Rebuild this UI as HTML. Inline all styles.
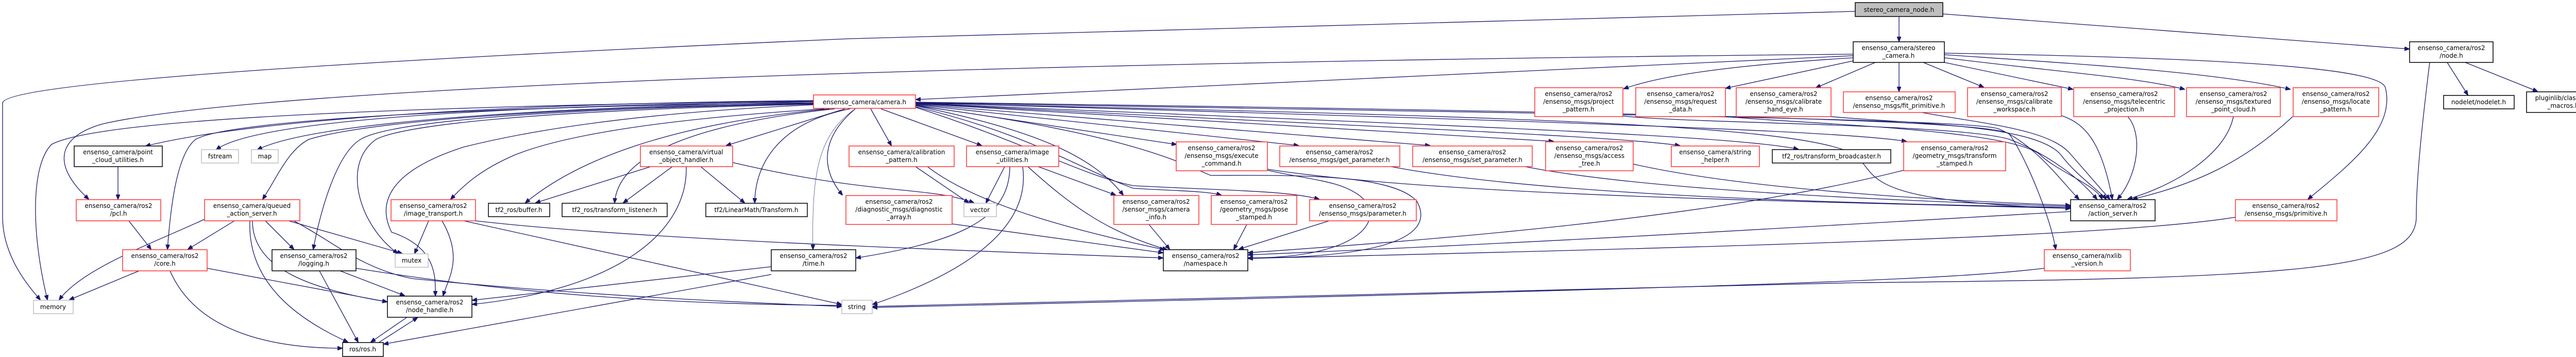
<!DOCTYPE html>
<html><head><meta charset="utf-8"><style>
html,body{margin:0;padding:0;background:#fff;}
svg{display:block;}
text{font-family:"DejaVu Sans","Liberation Sans",sans-serif;font-size:12px;fill:#000;}
.r{fill:#fff;stroke:#ff3333;stroke-width:1.5}
.b{fill:#fff;stroke:#000;stroke-width:1.5}
.g{fill:#fff;stroke:#bfbfbf;stroke-width:1.5}
.e path{fill:none;stroke:#191970;stroke-width:1.3}
</style></head><body>
<svg width="5053" height="692" viewBox="0 0 5053 692" xmlns="http://www.w3.org/2000/svg">
<defs><marker id="a" markerWidth="10" markerHeight="8" refX="9" refY="4" orient="auto" markerUnits="userSpaceOnUse"><path d="M0,0 L10,4 L0,8 z" fill="#191970" stroke="#191970"/></marker></defs>
<g class="e" marker-end="url(#a)">
<path marker-end="url(#a)" d="M3686,32 L3686,80"/>
<path marker-end="url(#a)" d="M3771,27 L4676,95"/>
<path marker-end="url(#a)" d="M3601,22 L1650,75 C400,130 5,170 5,200 L5,420 C5,500 60,560 78,581"/>
<path marker-end="url(#a)" d="M3597,105 C2500,115 600,150 200,240 C110,265 100,320 172,386"/>
<path marker-end="url(#a)" d="M3597,108 L1778,193"/>
<path marker-end="url(#a)" d="M3597,112 C3300,130 3200,155 3152,172"/>
<path marker-end="url(#a)" d="M3597,118 L3350,171"/>
<path marker-end="url(#a)" d="M3640,121 L3525,170"/>
<path marker-end="url(#a)" d="M3686,121 L3686,177"/>
<path marker-end="url(#a)" d="M3733,121 L3850,169"/>
<path marker-end="url(#a)" d="M3774,121 L4023,173"/>
<path marker-end="url(#a)" d="M3774,112 C4000,140 4150,150 4240,173"/>
<path marker-end="url(#a)" d="M3774,106 C4050,125 4300,140 4445,173"/>
<path marker-end="url(#a)" d="M3774,103 C4300,112 4620,130 4630,170 C4650,250 4560,320 4480,386"/>
<path marker-end="url(#a)" d="M4716,121 C4700,250 4690,350 4690,420 C4690,520 4500,540 3600,548 L1694,594"/>
<path marker-end="url(#a)" d="M3968,520 C3800,540 3500,555 1694,596"/>
<path marker-end="url(#a)" d="M4750,121 L4790,184"/>
<path marker-end="url(#a)" d="M4785,121 L4925,177"/>
<path marker-end="url(#a)" d="M1582,195 C1000,200 500,230 283,283"/>
<path marker-end="url(#a)" d="M1582,196 C1000,205 500,230 420,290"/>
<path marker-end="url(#a)" d="M1582,197 C1000,210 600,240 500,290"/>
<path marker-end="url(#a)" d="M1582,195 C900,205 200,225 100,280 C60,320 60,450 92,581"/>
<path marker-end="url(#a)" d="M1582,199 C1000,205 450,230 380,270 C340,300 330,420 325,483"/>
<path marker-end="url(#a)" d="M1582,200 C1000,210 700,240 600,270 C560,290 540,340 510,386"/>
<path marker-end="url(#a)" d="M1582,201 C1000,212 750,240 700,270 C650,300 620,420 608,483"/>
<path marker-end="url(#a)" d="M1582,202 C1000,215 780,245 730,270 C660,320 700,440 772,491"/>
<path marker-end="url(#a)" d="M1582,203 C1200,220 1000,260 900,285 C760,330 730,390 760,450 C850,480 845,540 845,573"/>
<path marker-end="url(#a)" d="M1600,211 C1300,230 1100,260 1000,300 C930,330 900,360 875,386"/>
<path marker-end="url(#a)" d="M1610,211 C1300,240 1120,310 1020,393"/>
<path marker-end="url(#a)" d="M1620,211 C1350,240 1200,300 1193,393"/>
<path marker-end="url(#a)" d="M1650,211 C1500,240 1465,330 1465,393"/>
<path marker-end="url(#a)" d="M1640,211 L1410,282"/>
<path marker-end="url(#a)" style="stroke-width:0.6" d="M1660,211 C1590,260 1575,330 1578,483"/>
<path marker-end="url(#a)" d="M1660,211 C1590,270 1595,330 1635,378"/>
<path marker-end="url(#a)" d="M1690,211 L1730,282"/>
<path marker-end="url(#a)" d="M1710,211 L1905,282"/>
<path marker-end="url(#a)" d="M1777,205 C2000,250 2120,300 2180,378"/>
<path marker-end="url(#a)" d="M1777,207 C2000,260 2100,330 2200,365 C2280,370 2340,370 2370,378"/>
<path marker-end="url(#a)" d="M1777,208 C2000,280 2100,340 2200,360 C2400,370 2500,370 2560,386"/>
<path marker-end="url(#a)" d="M1777,204 L2283,280"/>
<path marker-end="url(#a)" d="M1777,203 L2520,282"/>
<path marker-end="url(#a)" d="M1777,202 L2775,282"/>
<path marker-end="url(#a)" d="M1777,201 L3015,274"/>
<path marker-end="url(#a)" d="M1777,200 C2500,240 3100,260 3260,282"/>
<path marker-end="url(#a)" d="M1777,200 C2700,240 3350,260 3490,289"/>
<path marker-end="url(#a)" d="M1777,199 C2800,230 3550,250 3700,274"/>
<path marker-end="url(#a)" d="M1777,199 C3000,220 3830,230 3880,250 C3950,280 4000,350 4035,386"/>
<path marker-end="url(#a)" d="M1777,198 C3000,215 3880,230 3900,260 C3930,300 3980,420 3990,483"/>
<path marker-end="url(#a)" d="M1777,205 C2200,260 2300,320 2350,340 C2500,340 2700,335 2750,390 C2800,480 2600,500 2423,500"/>
<path marker-end="url(#a)" d="M1777,200 C2900,225 3500,240 3600,300 C3650,340 3600,390 4018,404"/>
<path marker-end="url(#a)" d="M3150,225 C3300,240 3800,240 3900,270 C3980,300 4040,350 4070,386"/>
<path marker-end="url(#a)" d="M3349,226 C3500,240 3900,250 3960,300 C3990,330 4070,360 4080,386"/>
<path marker-end="url(#a)" d="M3554,226 C3700,240 3950,240 4000,300 C4030,340 4075,370 4088,386"/>
<path marker-end="url(#a)" d="M3730,218 C3850,240 3980,250 4020,300 L4095,386"/>
<path marker-end="url(#a)" d="M4001,224 C4050,240 4080,280 4100,386"/>
<path marker-end="url(#a)" d="M4130,226 C4160,260 4150,340 4110,386"/>
<path marker-end="url(#a)" d="M4335,226 C4320,300 4220,360 4130,386"/>
<path marker-end="url(#a)" d="M4450,226 C4350,320 4250,360 4140,386"/>
<path marker-end="url(#a)" d="M2460,328 C2800,380 3500,390 4018,404"/>
<path marker-end="url(#a)" d="M2700,323 C3000,380 3600,395 4018,402"/>
<path marker-end="url(#a)" d="M2960,323 C3200,370 3700,390 4018,400"/>
<path marker-end="url(#a)" d="M3170,318 C3400,370 3800,390 4018,398"/>
<path marker-end="url(#a)" d="M3695,330 C3300,430 2700,470 2423,490"/>
<path marker-end="url(#a)" d="M4019,410 C3500,440 3000,470 2423,494"/>
<path marker-end="url(#a)" d="M4339,421 C4100,460 3300,480 2423,501"/>
<path marker-end="url(#a)" d="M923,428 C1200,460 1700,480 2257,500"/>
<path marker-end="url(#a)" d="M1848,434 L2257,490"/>
<path marker-end="url(#a)" d="M1800,323 C1900,400 2100,450 2260,484"/>
<path marker-end="url(#a)" d="M1995,323 C2080,400 2150,450 2265,484"/>
<path marker-end="url(#a)" d="M2230,435 L2270,483"/>
<path marker-end="url(#a)" d="M2420,435 L2395,483"/>
<path marker-end="url(#a)" d="M2580,428 L2405,483"/>
<path marker-end="url(#a)" d="M2460,330 C2550,350 2600,350 2640,380 C2690,420 2650,500 2423,500"/>
<path marker-end="url(#a)" d="M1960,323 C1960,430 1850,470 1662,500"/>
<path marker-end="url(#a)" d="M1985,323 C2000,430 1900,520 1694,590"/>
<path marker-end="url(#a)" d="M1950,323 L1914,393"/>
<path marker-end="url(#a)" d="M1777,323 L1880,393"/>
<path marker-end="url(#a)" d="M2015,323 L2165,378"/>
<path marker-end="url(#a)" d="M1422,315 C1700,380 1800,360 1890,393"/>
<path marker-end="url(#a)" d="M229,323 L229,386"/>
<path marker-end="url(#a)" d="M250,428 L293,483"/>
<path marker-end="url(#a)" d="M397,425 C300,470 160,520 115,581"/>
<path marker-end="url(#a)" d="M455,428 L365,483"/>
<path marker-end="url(#a)" d="M515,428 L570,483"/>
<path marker-end="url(#a)" d="M560,428 L780,491"/>
<path marker-end="url(#a)" d="M490,428 C490,520 600,560 751,585"/>
<path marker-end="url(#a)" d="M485,428 C480,550 580,620 675,663"/>
<path marker-end="url(#a)" d="M570,428 C650,470 700,520 800,540 C1100,570 1400,585 1633,594"/>
<path marker-end="url(#a)" d="M270,525 L135,581"/>
<path marker-end="url(#a)" d="M402,520 L751,585"/>
<path marker-end="url(#a)" d="M330,525 C380,640 520,675 664,675"/>
<path marker-end="url(#a)" d="M660,525 L785,573"/>
<path marker-end="url(#a)" d="M620,525 L695,663"/>
<path marker-end="url(#a)" d="M691,520 C1000,570 1300,590 1633,592"/>
<path marker-end="url(#a)" d="M832,428 L805,491"/>
<path marker-end="url(#a)" d="M858,428 C900,500 870,540 860,573"/>
<path marker-end="url(#a)" d="M900,428 L1633,590"/>
<path marker-end="url(#a)" d="M1497,517 L917,582"/>
<path marker-end="url(#a)" d="M1497,532 L745,667"/>
<path marker-end="url(#a)" d="M790,615 L720,663"/>
<path marker-end="url(#a)" d="M735,664 L810,616"/>
<path marker-end="url(#a)" d="M1263,323 L1040,393"/>
<path marker-end="url(#a)" d="M1305,323 L1210,393"/>
<path marker-end="url(#a)" d="M1360,323 L1445,393"/>
<path marker-end="url(#a)" d="M1332,323 C1335,450 1200,560 917,590"/>
</g>
<g text-anchor="middle">
<rect x="3601" y="5" width="170" height="27" fill="#bfbfbf" stroke="#000" stroke-width="1.5"/><text x="3686" y="23">stereo_camera_node.h</text>
<rect class="b" x="3597" y="81" width="177" height="40"/><text x="3685" y="97">ensenso_camera/stereo</text><text x="3685" y="112">_camera.h</text>
<rect class="b" x="4677" y="81" width="162" height="40"/><text x="4758" y="97">ensenso_camera/ros2</text><text x="4758" y="112">/node.h</text>
<rect class="r" x="1579" y="184" width="198" height="26"/><text x="1678" y="202">ensenso_camera/camera.h</text>
<rect class="r" x="2979" y="170" width="171" height="56"/><text x="3064" y="186">ensenso_camera/ros2</text><text x="3064" y="201">/ensenso_msgs/project</text><text x="3064" y="216">_pattern.h</text>
<rect class="r" x="3175" y="170" width="174" height="56"/><text x="3262" y="186">ensenso_camera/ros2</text><text x="3262" y="201">/ensenso_msgs/request</text><text x="3262" y="216">_data.h</text>
<rect class="r" x="3370" y="170" width="184" height="56"/><text x="3462" y="186">ensenso_camera/ros2</text><text x="3462" y="201">/ensenso_msgs/calibrate</text><text x="3462" y="216">_hand_eye.h</text>
<rect class="r" x="3578" y="178" width="217" height="40"/><text x="3686" y="194">ensenso_camera/ros2</text><text x="3686" y="209">/ensenso_msgs/fit_primitive.h</text>
<rect class="r" x="3819" y="170" width="182" height="56"/><text x="3910" y="186">ensenso_camera/ros2</text><text x="3910" y="201">/ensenso_msgs/calibrate</text><text x="3910" y="216">_workspace.h</text>
<rect class="r" x="4025" y="170" width="196" height="56"/><text x="4123" y="186">ensenso_camera/ros2</text><text x="4123" y="201">/ensenso_msgs/telecentric</text><text x="4123" y="216">_projection.h</text>
<rect class="r" x="4244" y="170" width="182" height="56"/><text x="4335" y="186">ensenso_camera/ros2</text><text x="4335" y="201">/ensenso_msgs/textured</text><text x="4335" y="216">_point_cloud.h</text>
<rect class="r" x="4451" y="170" width="166" height="56"/><text x="4534" y="186">ensenso_camera/ros2</text><text x="4534" y="201">/ensenso_msgs/locate</text><text x="4534" y="216">_pattern.h</text>
<rect class="b" x="4743" y="185" width="137" height="26"/><text x="4811" y="202">nodelet/nodelet.h</text>
<rect class="b" x="4904" y="178" width="142" height="40"/><text x="4975" y="194">pluginlib/class_list</text><text x="4975" y="209">_macros.h</text>
<rect class="b" x="144" y="283" width="171" height="40"/><text x="229" y="299">ensenso_camera/point</text><text x="229" y="314">_cloud_utilities.h</text>
<rect class="g" x="391" y="290" width="72" height="26"/><text x="427" y="307">fstream</text>
<rect class="g" x="488" y="290" width="52" height="26"/><text x="514" y="307">map</text>
<rect class="r" x="1243" y="283" width="179" height="40"/><text x="1332" y="299">ensenso_camera/virtual</text><text x="1332" y="314">_object_handler.h</text>
<rect class="r" x="1648" y="283" width="204" height="40"/><text x="1750" y="299">ensenso_camera/calibration</text><text x="1750" y="314">_pattern.h</text>
<rect class="r" x="1876" y="283" width="179" height="40"/><text x="1965" y="299">ensenso_camera/image</text><text x="1965" y="314">_utilities.h</text>
<rect class="r" x="2283" y="275" width="177" height="56"/><text x="2371" y="291">ensenso_camera/ros2</text><text x="2371" y="306">/ensenso_msgs/execute</text><text x="2371" y="321">_command.h</text>
<rect class="r" x="2484" y="283" width="233" height="40"/><text x="2600" y="299">ensenso_camera/ros2</text><text x="2600" y="314">/ensenso_msgs/get_parameter.h</text>
<rect class="r" x="2742" y="283" width="232" height="40"/><text x="2858" y="299">ensenso_camera/ros2</text><text x="2858" y="314">/ensenso_msgs/set_parameter.h</text>
<rect class="r" x="3000" y="275" width="170" height="56"/><text x="3085" y="291">ensenso_camera/ros2</text><text x="3085" y="306">/ensenso_msgs/access</text><text x="3085" y="321">_tree.h</text>
<rect class="r" x="3244" y="283" width="171" height="40"/><text x="3329" y="299">ensenso_camera/string</text><text x="3329" y="314">_helper.h</text>
<rect class="b" x="3440" y="290" width="230" height="26"/><text x="3555" y="307">tf2_ros/transform_broadcaster.h</text>
<rect class="r" x="3695" y="275" width="198" height="56"/><text x="3794" y="291">ensenso_camera/ros2</text><text x="3794" y="306">/geometry_msgs/transform</text><text x="3794" y="321">_stamped.h</text>
<rect class="r" x="148" y="387" width="164" height="41"/><text x="230" y="403">ensenso_camera/ros2</text><text x="230" y="418">/pcl.h</text>
<rect class="r" x="397" y="387" width="185" height="41"/><text x="489" y="403">ensenso_camera/queued</text><text x="489" y="418">_action_server.h</text>
<rect class="r" x="759" y="387" width="164" height="41"/><text x="841" y="403">ensenso_camera/ros2</text><text x="841" y="418">/image_transport.h</text>
<rect class="b" x="948" y="394" width="119" height="26"/><text x="1007" y="411">tf2_ros/buffer.h</text>
<rect class="b" x="1091" y="394" width="204" height="26"/><text x="1193" y="411">tf2_ros/transform_listener.h</text>
<rect class="b" x="1370" y="394" width="197" height="26"/><text x="1468" y="411">tf2/LinearMath/Transform.h</text>
<rect class="r" x="1642" y="379" width="206" height="56"/><text x="1745" y="395">ensenso_camera/ros2</text><text x="1745" y="410">/diagnostic_msgs/diagnostic</text><text x="1745" y="425">_array.h</text>
<rect class="g" x="1871" y="394" width="63" height="26"/><text x="1902" y="411">vector</text>
<rect class="r" x="2162" y="379" width="165" height="56"/><text x="2244" y="395">ensenso_camera/ros2</text><text x="2244" y="410">/sensor_msgs/camera</text><text x="2244" y="425">_info.h</text>
<rect class="r" x="2351" y="379" width="166" height="56"/><text x="2434" y="395">ensenso_camera/ros2</text><text x="2434" y="410">/geometry_msgs/pose</text><text x="2434" y="425">_stamped.h</text>
<rect class="r" x="2542" y="387" width="207" height="41"/><text x="2645" y="403">ensenso_camera/ros2</text><text x="2645" y="418">/ensenso_msgs/parameter.h</text>
<rect class="b" x="4019" y="387" width="164" height="41"/><text x="4101" y="403">ensenso_camera/ros2</text><text x="4101" y="418">/action_server.h</text>
<rect class="r" x="4339" y="387" width="197" height="41"/><text x="4437" y="403">ensenso_camera/ros2</text><text x="4437" y="418">/ensenso_msgs/primitive.h</text>
<rect class="r" x="238" y="484" width="164" height="41"/><text x="320" y="500">ensenso_camera/ros2</text><text x="320" y="515">/core.h</text>
<rect class="b" x="528" y="484" width="163" height="41"/><text x="609" y="500">ensenso_camera/ros2</text><text x="609" y="515">/logging.h</text>
<rect class="g" x="767" y="492" width="64" height="26"/><text x="799" y="509">mutex</text>
<rect class="b" x="1497" y="484" width="164" height="41"/><text x="1579" y="500">ensenso_camera/ros2</text><text x="1579" y="515">/time.h</text>
<rect class="b" x="2258" y="484" width="164" height="41"/><text x="2340" y="500">ensenso_camera/ros2</text><text x="2340" y="515">/namespace.h</text>
<rect class="r" x="3968" y="484" width="167" height="41"/><text x="4051" y="500">ensenso_camera/nxlib</text><text x="4051" y="515">_version.h</text>
<rect class="g" x="65" y="582" width="77" height="26"/><text x="103" y="599">memory</text>
<rect class="b" x="752" y="574" width="164" height="41"/><text x="834" y="590">ensenso_camera/ros2</text><text x="834" y="605">/node_handle.h</text>
<rect class="g" x="1634" y="582" width="59" height="26"/><text x="1663" y="599">string</text>
<rect class="b" x="665" y="664" width="79" height="27"/><text x="704" y="681">ros/ros.h</text>
</g>
</svg>
</body></html>
